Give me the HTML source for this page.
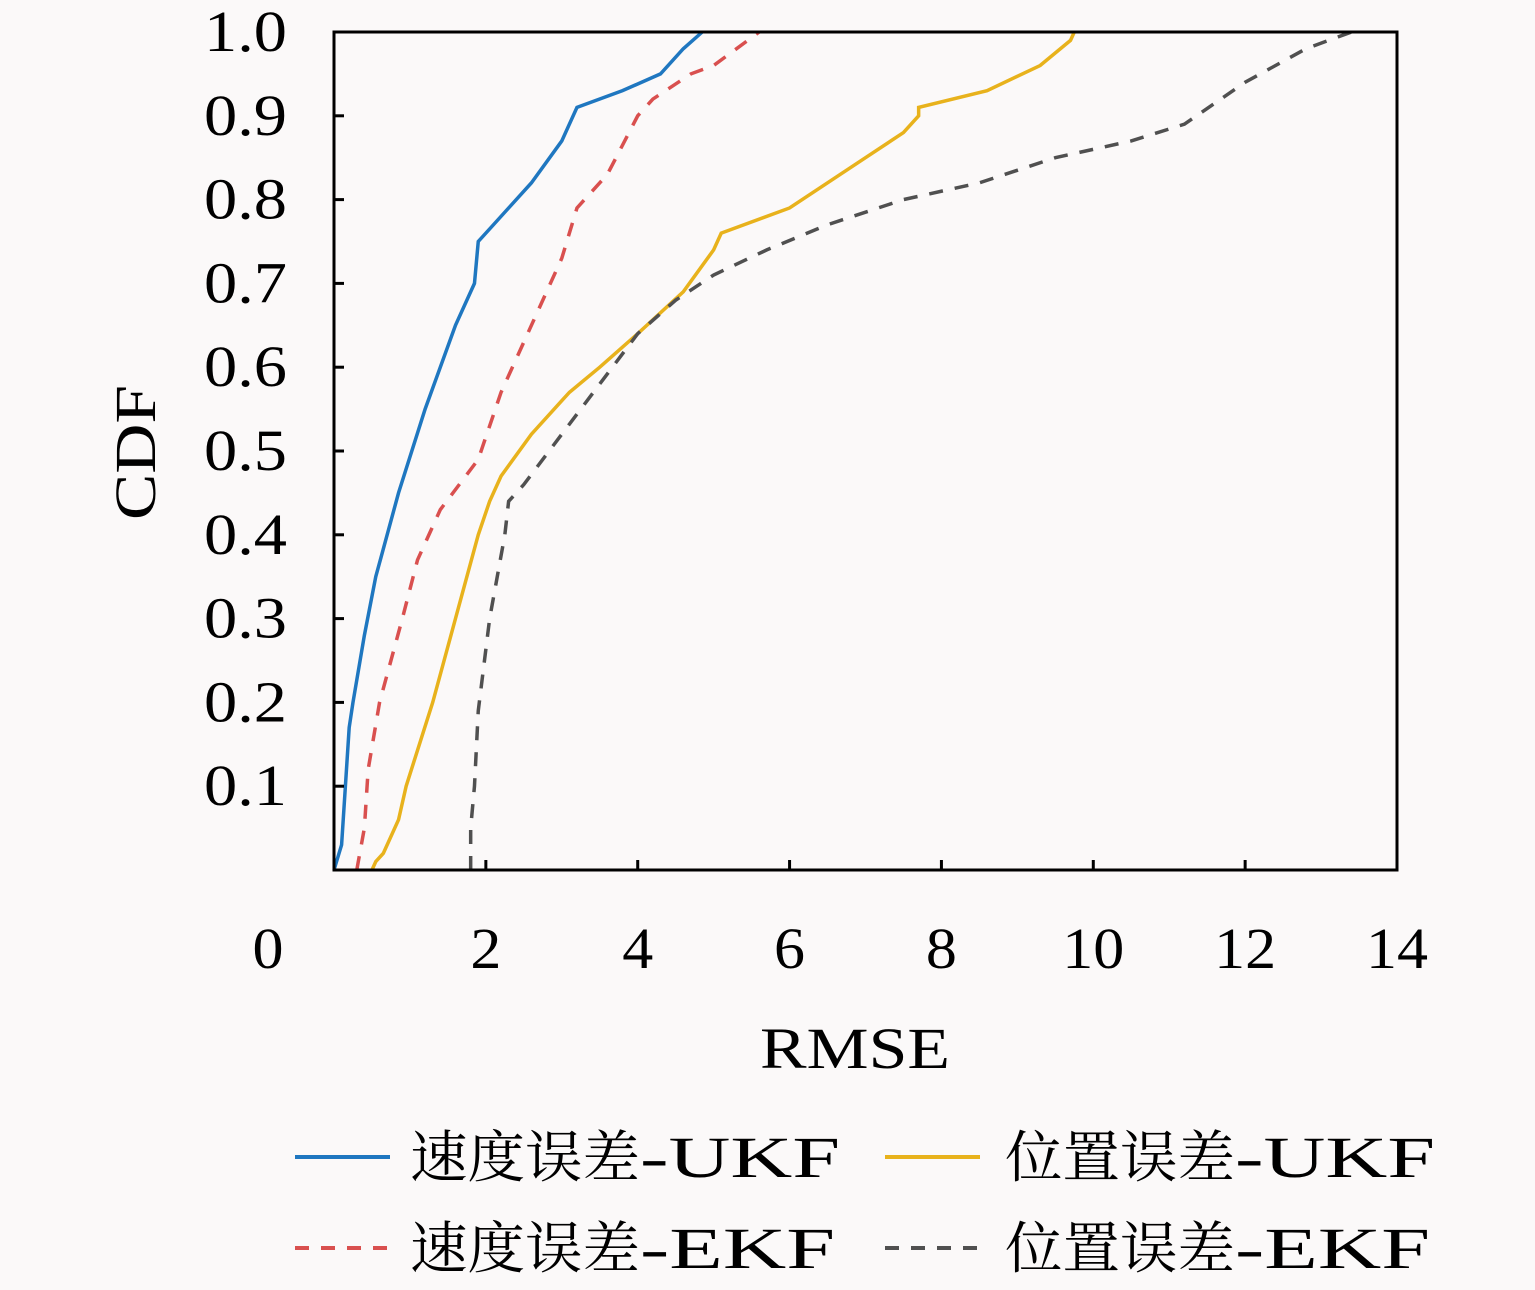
<!DOCTYPE html>
<html><head><meta charset="utf-8"><style>
html,body{margin:0;padding:0;background:#fbf9f9;}
svg{display:block;font-family:"Liberation Serif","Noto Serif CJK SC",serif;}
</style></head><body>
<svg id="chart" width="1535" height="1290" viewBox="0 0 1535 1290" xmlns="http://www.w3.org/2000/svg">
<rect x="0" y="0" width="1535" height="1290" fill="#fbf9f9"/>
<g id="series"></g>
<rect x="334" y="32" width="1063" height="838" fill="none" stroke="#000" stroke-width="3"/>
<g id="ticks"></g>
<text x="760" y="1068" font-size="58" textLength="190" lengthAdjust="spacingAndGlyphs">RMSE</text>
<text transform="translate(155,520) rotate(-90)" font-size="58" textLength="135" lengthAdjust="spacingAndGlyphs">CDF</text>
<g>
<g><line x1="295" y1="1157" x2="390" y2="1157" stroke="#1f77c0" stroke-width="4"/><text x="410" y="1177" font-size="56" textLength="230" lengthAdjust="spacingAndGlyphs">速度误差</text><text x="640" y="1177" font-size="58" textLength="200" lengthAdjust="spacingAndGlyphs">-UKF</text></g>
<g><line x1="885" y1="1157" x2="980" y2="1157" stroke="#e8b21c" stroke-width="4"/><text x="1005" y="1177" font-size="56" textLength="230" lengthAdjust="spacingAndGlyphs">位置误差</text><text x="1235" y="1177" font-size="58" textLength="200" lengthAdjust="spacingAndGlyphs">-UKF</text></g>
<g><line x1="295" y1="1248" x2="390" y2="1248" stroke="#d9504f" stroke-width="4" stroke-dasharray="14,12"/><text x="410" y="1268" font-size="56" textLength="230" lengthAdjust="spacingAndGlyphs">速度误差</text><text x="640" y="1268" font-size="58" textLength="195" lengthAdjust="spacingAndGlyphs">-EKF</text></g>
<g><line x1="885" y1="1248" x2="980" y2="1248" stroke="#505050" stroke-width="4" stroke-dasharray="14,12"/><text x="1005" y="1268" font-size="56" textLength="230" lengthAdjust="spacingAndGlyphs">位置误差</text><text x="1235" y="1268" font-size="58" textLength="195" lengthAdjust="spacingAndGlyphs">-EKF</text></g>
</g>
</svg>
<script>
const xTicks=[0,2,4,6,8,10,12,14];
const yTicks=[0.1,0.2,0.3,0.4,0.5,0.6,0.7,0.8,0.9,1.0];
const velUkfX=[0,0.1,0.15,0.2,0.25,0.4,0.55,0.85,1.2,1.6,1.85,1.9,2.1,2.6,3.0,3.2,3.8,4.3,4.6,4.85];
const velUkfY=[0,0.03,0.1,0.17,0.2,0.28,0.35,0.45,0.55,0.65,0.7,0.75,0.77,0.82,0.87,0.91,0.93,0.95,0.98,1.0];
const velEkfX=[0.3,0.4,0.45,0.6,0.9,1.1,1.4,1.9,2.2,2.6,3.0,3.2,3.6,4.0,4.2,4.7,5.0,5.6];
const velEkfY=[0,0.05,0.12,0.2,0.3,0.37,0.43,0.49,0.57,0.65,0.73,0.79,0.83,0.9,0.92,0.95,0.96,1.0];
const posUkfX=[0.5,0.55,0.65,0.85,0.95,1.3,1.6,1.9,2.05,2.2,2.6,3.0,3.1,3.5,4.0,4.6,5.0,5.1,6.0,7.0,7.5,7.7,7.7,8.6,9.3,9.7,9.75];
const posUkfY=[0,0.01,0.02,0.06,0.1,0.2,0.3,0.4,0.44,0.47,0.52,0.56,0.57,0.6,0.64,0.69,0.74,0.76,0.79,0.85,0.88,0.9,0.91,0.93,0.96,0.99,1.0];
const posEkfX=[1.8,1.8,1.85,1.9,2.05,2.25,2.3,2.5,3.0,3.5,4.0,4.5,5.0,5.7,6.5,7.5,8.5,9.5,10.5,11.2,12.0,12.8,13.4];
const posEkfY=[0,0.05,0.1,0.19,0.3,0.4,0.44,0.46,0.52,0.58,0.64,0.68,0.71,0.74,0.77,0.8,0.82,0.85,0.87,0.89,0.94,0.98,1.0];
const NS='http://www.w3.org/2000/svg';
function sx(v){return 334+v*(1063/14);}
function sy(v){return 870-v*838;}
const tg=document.getElementById('ticks');
xTicks.forEach(t=>{
  const l=document.createElementNS(NS,'line');
  l.setAttribute('x1',sx(t));l.setAttribute('x2',sx(t));l.setAttribute('y1',870);l.setAttribute('y2',860);
  l.setAttribute('stroke','#000');l.setAttribute('stroke-width','3');
  
  
  tg.appendChild(l);
  const tx=document.createElementNS(NS,'text');
  const s=String(t);const w=s.length*31;
  tx.setAttribute('x',(t===0?268:sx(t))-w/2);tx.setAttribute('y',968);tx.setAttribute('font-size','58');
  tx.setAttribute('textLength',w);tx.setAttribute('lengthAdjust','spacingAndGlyphs');
  tx.textContent=s;
  
  
  tg.appendChild(tx);
});
yTicks.forEach(t=>{
  const l=document.createElementNS(NS,'line');
  l.setAttribute('x1',334);l.setAttribute('x2',344);l.setAttribute('y1',sy(t));l.setAttribute('y2',sy(t));
  l.setAttribute('stroke','#000');l.setAttribute('stroke-width','3');
  
  
  tg.appendChild(l);
  const tx=document.createElementNS(NS,'text');
  tx.setAttribute('x',204);tx.setAttribute('y',sy(t)+19);tx.setAttribute('font-size','58');
  tx.setAttribute('textLength','83');tx.setAttribute('lengthAdjust','spacingAndGlyphs');
  tx.textContent=t.toFixed(1);
  
  
  tg.appendChild(tx);
});
const sg=document.getElementById('series');
function draw(xs,ys,color,dash,name){
  const p=document.createElementNS(NS,'polyline');
  p.setAttribute('points',xs.map((x,i)=>sx(x)+','+sy(ys[i])).join(' '));
  p.setAttribute('fill','none');p.setAttribute('stroke',color);p.setAttribute('stroke-width','3.5');
  if(dash)p.setAttribute('stroke-dasharray',dash);
  
  
  sg.appendChild(p);
}
draw(velUkfX,velUkfY,'#1f77c0',null,'line-velocity-ukf');
draw(velEkfX,velEkfY,'#d9504f','14,12','line-velocity-ekf');
draw(posUkfX,posUkfY,'#e8b21c',null,'line-position-ukf');
draw(posEkfX,posEkfY,'#505050','14,12','line-position-ekf');
</script>
</body></html>
